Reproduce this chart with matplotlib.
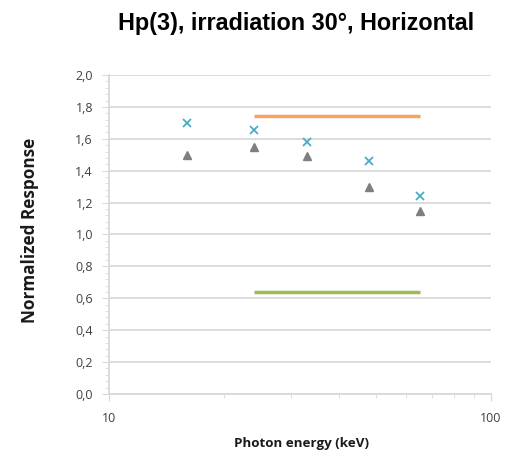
import numpy as np
import matplotlib
matplotlib.use("Agg")
import matplotlib.pyplot as plt
from matplotlib.ticker import FixedLocator, FuncFormatter, LogLocator, NullFormatter, MultipleLocator

# ---------------------- data ----------------------
energy = [16, 24, 33, 48, 65]                 # keV
resp_cross = [1.70, 1.655, 1.58, 1.46, 1.24]  # blue x markers
resp_tri = [1.50, 1.55, 1.49, 1.30, 1.15]     # grey triangles
limit_x = [24, 65]
upper_limit = [1.74, 1.74]
lower_limit = [0.64, 0.64]

W, H = 508, 458
fig = plt.figure(figsize=(W / 100, H / 100), dpi=100)
ax = fig.add_axes([109 / W, 1 - 394 / H, (491 - 109) / W, (394 - 75) / H])

ax.plot(limit_x, upper_limit, color="#f4a460", lw=2.5, solid_capstyle="butt")
ax.plot(limit_x, lower_limit, color="#9bbb59", lw=2.5, solid_capstyle="butt")
ax.plot(energy, resp_cross, ls="none", marker="x", color="#4bacc6", ms=6, mew=1.3)
ax.plot(energy, resp_tri, ls="none", marker="^", color="#7f7f7f", ms=6)

ax.set_xscale("log")
ax.set_xlim(10, 100)
ax.set_ylim(0, 2.0)

ax.yaxis.set_major_locator(MultipleLocator(0.2))
ax.yaxis.set_minor_locator(MultipleLocator(0.04))
ax.yaxis.set_major_formatter(FuncFormatter(lambda v, p: f"{v:.1f}".replace(".", ",")))
ax.xaxis.set_major_locator(FixedLocator([10, 100]))
ax.xaxis.set_major_formatter(FuncFormatter(lambda v, p: f"{v:g}"))
ax.xaxis.set_minor_locator(LogLocator(base=10, subs=np.arange(2, 10)))
ax.xaxis.set_minor_formatter(NullFormatter())

ax.grid(axis="y", which="major", color="#d9d9d9", lw=1.3)
ax.set_axisbelow(True)
for s in ["top", "right"]:
    ax.spines[s].set_visible(False)
for s in ["left", "bottom"]:
    ax.spines[s].set_color("#d9d9d9")
    ax.spines[s].set_linewidth(1.3)

ax.tick_params(axis="both", which="both", color="#d9d9d9", labelcolor="#404040", labelsize=9)
ax.tick_params(axis="y", which="major", length=5, pad=6.5)
ax.tick_params(axis="y", which="minor", length=3)
ax.tick_params(axis="x", which="major", length=5, pad=8)
ax.tick_params(axis="x", which="minor", length=3)
for lab in ax.get_xticklabels() + ax.get_yticklabels():
    lab.set_family("Open Sans")

# titles / axis labels placed in pixels, then sized to the width seen in the picture
title = fig.text(296.5 / W, 1 - 30 / H, "Hp(3), irradiation 30°, Horizontal", ha="center",
                 va="baseline", fontsize=14, fontweight="bold", family="Liberation Sans")
xlab = fig.text(301.5 / W, 1 - 444 / H, "Photon energy (keV)", ha="center", va="center",
                fontsize=8.5, fontweight="bold", family="Open Sans", color="#1a1a1a")
ylab = fig.text(30 / W, 1 - 230 / H, "Normalized Response", ha="center", va="center",
                rotation=90, fontsize=10, fontweight="bold", family="Open Sans", color="#1a1a1a")


def fit(t, target, attr):
    fig.canvas.draw()
    bb = t.get_window_extent(fig.canvas.get_renderer())
    t.set_fontsize(t.get_fontsize() * target / getattr(bb, attr))


fit(title, 357, "width")
fit(xlab, 133, "width")
fit(ylab, 185, "height")

fig.savefig("out.png", dpi=100)
